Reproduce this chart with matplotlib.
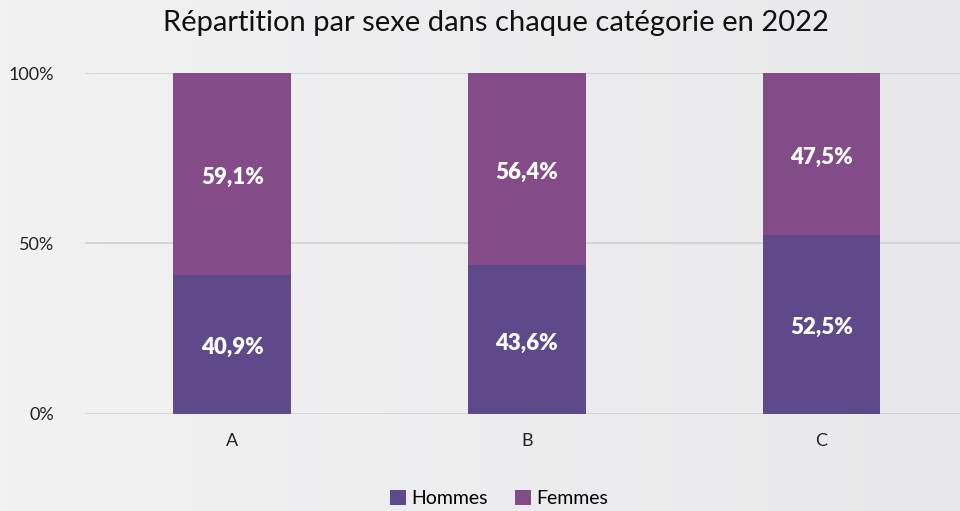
import numpy as np
import matplotlib
matplotlib.use("Agg")
import matplotlib.pyplot as plt
from matplotlib.colors import LinearSegmentedColormap

categories = ["A", "B", "C"]
hommes = [40.9, 43.6, 52.5]
femmes = [59.1, 56.4, 47.5]
yticks = [0, 50, 100]
ytick_labels = ["0%", "50%", "100%"]

col_h = "#5e4a8b"
col_f = "#834b88"

plt.rcParams["font.family"] = ["Lato", "DejaVu Sans"]

fig = plt.figure(figsize=(9.6, 5.11), dpi=100)

# subtle background gradient
bg = fig.add_axes([0, 0, 1, 1], zorder=-10)
grad = np.tile(np.linspace(0, 1, 200), (50, 1))
cmap = LinearSegmentedColormap.from_list("bg", ["#f2f2f3", "#e8e8ea"])
bg.imshow(grad, aspect="auto", cmap=cmap, extent=[0, 1, 0, 1])
bg.axis("off")

ax = fig.add_axes([0.0885, 0.19, 0.9115, 0.667])
ax.patch.set_alpha(0)
x = np.arange(len(categories))
w = 0.4
ax.bar(x, hommes, w, color=col_h, label="Hommes", zorder=3)
ax.bar(x, femmes, w, bottom=hommes, color=col_f, label="Femmes", zorder=3)

for i in range(len(categories)):
    ax.text(x[i], hommes[i] / 2 - 1, f"{hommes[i]:.1f}%".replace(".", ","),
            ha="center", va="center", color="white", fontsize=16, fontweight="heavy", zorder=4)
    ax.text(x[i], hommes[i] + femmes[i] / 2 - 1, f"{femmes[i]:.1f}%".replace(".", ","),
            ha="center", va="center", color="white", fontsize=16, fontweight="heavy", zorder=4)

ax.set_xlim(-0.5, 2.47)
ax.set_ylim(0, 100)
ax.set_yticks(yticks)
ax.set_yticklabels(ytick_labels, fontsize=13, color="#222222")
ax.set_xticks(x)
ax.set_xticklabels(categories, fontsize=13, color="#222222")
ax.tick_params(axis="both", length=0)
ax.tick_params(axis="x", pad=14)
ax.tick_params(axis="y", pad=22)
ax.grid(axis="y", color="#d0d0d0", linewidth=1.2, zorder=0)
for s in ax.spines.values():
    s.set_visible(False)

fig.text(0.517, 0.955, "Répartition par sexe dans chaque catégorie en 2022",
         ha="center", va="center", fontsize=21, color="#111111")

fig.legend(loc="center", bbox_to_anchor=(0.52, 0.025), ncol=2, frameon=False,
           fontsize=14, handlelength=0.8, handleheight=0.8, handletextpad=0.3,
           columnspacing=1.4)

fig.savefig("out.png", dpi=100)
